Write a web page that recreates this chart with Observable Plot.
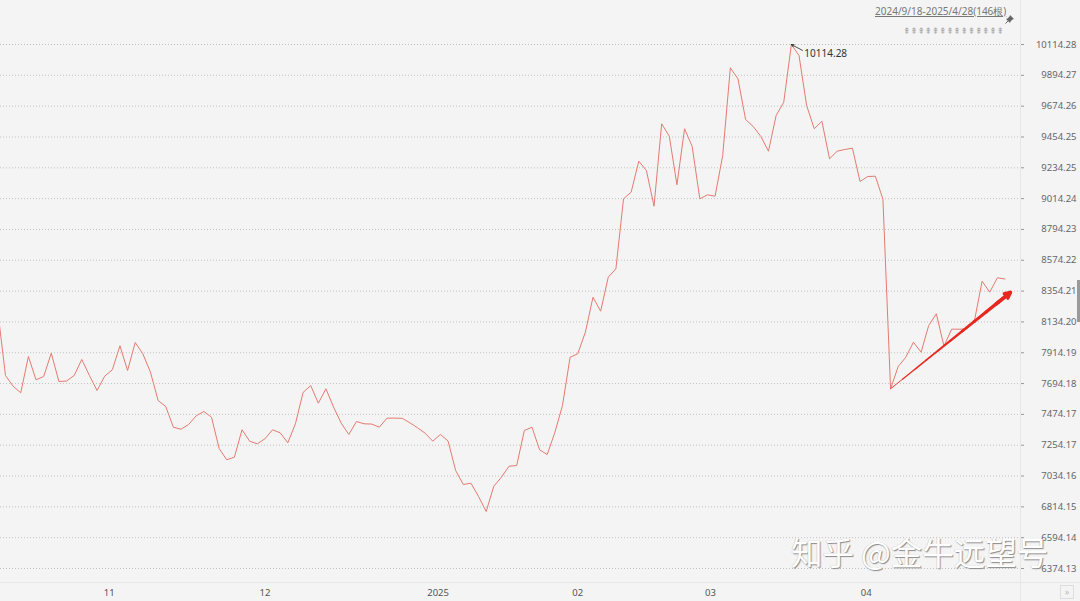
<!DOCTYPE html>
<html><head><meta charset="utf-8">
<script src="https://cdn.jsdelivr.net/npm/d3@7"></script>
<script src="https://cdn.jsdelivr.net/npm/@observablehq/plot@0.6"></script>
<style>
html,body{margin:0;padding:0;background:#f4f4f4;}
#wrap{position:relative;width:1080px;height:601px;overflow:hidden;background:#f4f4f4;font-family:"Noto Sans",sans-serif;}
#wrap > svg{position:absolute;left:0;top:0;}
.ov{position:absolute;white-space:nowrap;}
</style>
</head><body>
<div id="wrap"></div>
<script>
// closing values, one per trading day (index -1 is just off the left edge)
const closes = [
 8208.5,
 7751.7,7675.3,7628.2,7887.3,7721.0,7744.6,7910.9,7708.9,7712.0,7751.7,
 7865.9,7751.7,7644.7,7746.7,7792.4,7963.7,7787.4,7987.3,7906.6,7775.3,
 7573.3,7530.5,7382.7,7368.4,7402.0,7464.1,7494.8,7454.1,7230.7,7150.0,
 7168.6,7364.1,7282.8,7264.2,7299.9,7364.1,7342.7,7271.4,7407.0,7630.4,
 7680.4,7554.0,7656.8,7525.5,7411.3,7330.6,7423.4,7407.0,7405.0,7382.7,
 7446.9,7447.5,7446.0,7414.1,7378.4,7339.9,7282.8,7330.6,7285.0,7073.6,
 6973.7,6983.0,6888.1,6781.0,6961.6,7025.8,7104.3,7109.3,7359.1,7382.7,
 7221.4,7187.8,7344.9,7537.6,7882.4,7906.6,8060.8,8310.6,8210.7,8453.4,
 8513.3,9013.0,9060.1,9281.3,9215.0,8960.1,9548.3,9459.8,9112.9,9512.6,
 9386.3,9013.0,9041.5,9031.5,9322.0,9948.0,9869.5,9579.0,9529.0,9457.6,
 9352.7,9607.5,9702.5,10114.28,10035.8,9678.9,9512.6,9566.8,9298.5,9352.7,
 9364.8,9374.1,9136.4,9172.1,9174.3,9010.0,7656.8,7816.0,7882.4,7989.4,
 7918.0,8108.6,8192.1,7960.9,8082.2,8082.2,8085.0,8144.3,8424.8,8346.3,
 8449.1,8440.5
];
const firstIndex = -1;

// month tick positions (trading-day index) and their labels
const monthTicks = [13.6, 34, 56.7, 75, 92.4, 112.8];
const monthLabels = ["11", "12", "2025", "02", "03", "04"];

// right axis tick values
const yTicks = [10114.28, 9894.27, 9674.26, 9454.25, 9234.25, 9014.24, 8794.23, 8574.22,
  8354.21, 8134.20, 7914.19, 7694.18, 7474.17, 7254.17, 7034.16, 6814.15, 6594.14, 6374.13];

// hand-drawn trend arrow: start/end (index, value)
const trendFrom = [116, 7656.8];
const trendTo = [131.7, 8344.0];

const rangeText = "2024/9/18-2025/4/28(146根)";
const watermark = "知乎 @金牛远望号";

const data = closes.map((v, i) => ({i: i + firstIndex, v}));
const peak = data.reduce((a, b) => (b.v > a.v ? b : a));
const labelFor = new Map(monthTicks.map((t, i) => [t, monthLabels[i]]));

// tapered segments for the trend arrow
const nSeg = 10;
const segs = d3.range(nSeg).map(j => {
  const t0 = j / nSeg, t1 = (j + 1) / nSeg;
  return {
    x1: trendFrom[0] + (trendTo[0] - trendFrom[0]) * t0,
    y1: trendFrom[1] + (trendTo[1] - trendFrom[1]) * t0,
    x2: trendFrom[0] + (trendTo[0] - trendFrom[0]) * t1,
    y2: trendFrom[1] + (trendTo[1] - trendFrom[1]) * t1,
    w: 0.6 + 3.0 * t1
  };
});

const chart = Plot.plot({
  width: 1080, height: 601,
  marginLeft: 0, marginRight: 60, marginTop: 44, marginBottom: 33,
  x: {domain: [-0.655, 133.03]},
  y: {domain: [6374.13, 10114.28]},
  style: {background: "transparent", fontFamily: "Noto Sans, sans-serif", fontSize: "9.5px", color: "#666"},
  marks: [
    Plot.ruleY(yTicks, {stroke: "#c2c2c2", strokeDasharray: "1,2", strokeWidth: 1}),
    Plot.axisY(yTicks, {anchor: "right", tickSize: 3, tickPadding: 53, textAnchor: "end",
      tickFormat: d => d.toFixed(2), fill: "#666", stroke: "#999", label: null}),
    Plot.axisX(monthTicks, {anchor: "bottom", tickSize: 0, tickPadding: 21,
      tickFormat: d => labelFor.get(d), fill: "#555", label: null}),
    Plot.line(data, {x: "i", y: "v", stroke: "#e57a70", strokeWidth: 1, clip: true}),
    Plot.link(segs, {x1: "x1", y1: "y1", x2: "x2", y2: "y2", stroke: "#e8271f",
      strokeWidth: "w", strokeLinecap: "round"}),
    Plot.arrow([0], {x1: trendFrom[0] + (trendTo[0] - trendFrom[0]) * 0.88,
      y1: trendFrom[1] + (trendTo[1] - trendFrom[1]) * 0.88,
      x2: trendTo[0], y2: trendTo[1], stroke: "#e8271f", strokeWidth: 3.4,
      headLength: 8, headAngle: 55}),
    Plot.arrow([peak], {x1: d => d.i + 1.45, y1: d => d.v - 42, x2: "i", y2: "v",
      stroke: "#222", strokeWidth: 0.8, headLength: 5, headAngle: 50}),
    Plot.text([peak], {x: "i", y: "v", text: d => d.v.toFixed(2), dx: 13, dy: 9,
      textAnchor: "start", fill: "#333", fontSize: 10})
  ]
});

const wrap = document.getElementById("wrap");
wrap.appendChild(chart);

function ov(html, css) {
  const d = document.createElement("div");
  d.className = "ov";
  d.innerHTML = html;
  Object.assign(d.style, css);
  wrap.appendChild(d);
  return d;
}
// right panel separator and bottom band line
ov("", {left: "1020px", top: "0px", width: "1px", height: "601px", background: "#e6e6e6"});
ov("", {left: "0px", top: "582px", width: "1080px", height: "1px", background: "#e6e6e6"});
// scrollbar thumb
ov("", {left: "1077px", top: "280px", width: "3px", height: "42px", background: "#9a9a9a"});
// header range text with pin
ov(rangeText, {left: "875px", top: "4px", fontSize: "10px", color: "#777",
  textDecoration: "underline", fontFamily: "Noto Sans, sans-serif"});
ov('<svg width="10" height="10" viewBox="0 0 10 10"><g fill="#666" stroke="#666" stroke-width="1">' +
   '<path d="M5 1 L9 5 L7.5 5.5 L5.5 7.5 L5 9 L1 5 L2.5 4.5 L4.5 2.5 Z" stroke="none"/>' +
   '<line x1="3" y1="7" x2="0.5" y2="9.5"/></g></svg>', {left: "1005px", top: "7px"});
// row of small up-arrow glyphs
const arrowRow = ov("", {left: "903px", top: "26px", display: "flex"});
for (let k = 0; k < 14; k++) {
  const s = document.createElement("span");
  s.textContent = "⇞";
  Object.assign(s.style, {display: "inline-block", width: "7.2px", fontSize: "9px", color: "#aaa",
    fontFamily: "DejaVu Sans", textAlign: "center", overflow: "visible"});
  arrowRow.appendChild(s);
}
// bottom-right button
ov("»", {left: "1060px", top: "585px", width: "12px", height: "12px", border: "1px solid #ddd",
  fontSize: "9px", color: "#bbb", textAlign: "center", lineHeight: "11px"});
// watermark
ov(watermark, {left: "791px", top: "528px", fontSize: "31.5px", color: "#ffffff",
  fontFamily: "'Noto Sans CJK SC', sans-serif", textShadow: "1px 1px 1px #8a8a8a, -0.5px -0.5px 0 #c8c8c8"});
</script>
</body></html>
